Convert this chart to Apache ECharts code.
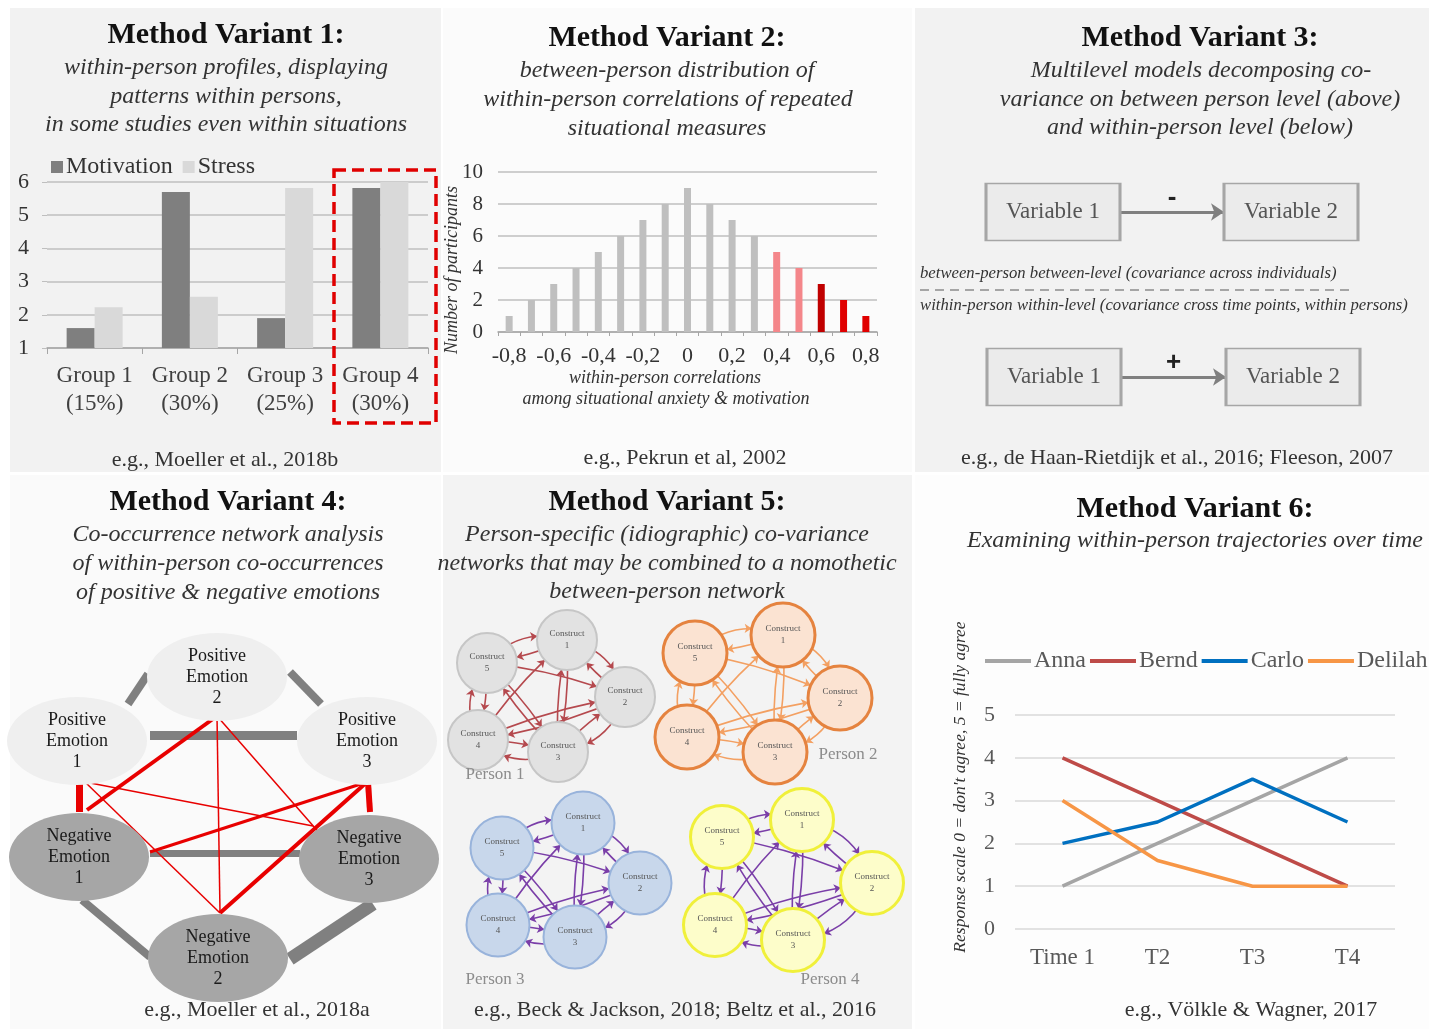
<!DOCTYPE html>
<html><head><meta charset="utf-8">
<script src="https://cdn.jsdelivr.net/npm/echarts@6/dist/echarts.min.js"></script>
<style>html,body{margin:0;padding:0;background:#fff}#c{width:1429px;height:1029px}</style>
</head><body><div id="c"></div>
<script>
// ---------- Panel 1 data ----------
const p1Categories = ['Group 1\n(15%)', 'Group 2\n(30%)', 'Group 3\n(25%)', 'Group 4\n(30%)'];
const p1Motivation = [1.6, 5.7, 1.9, 5.82];
const p1Stress = [2.23, 2.54, 5.82, 6.0];
// ---------- Panel 2 data ----------
const p2Bins = ['-0,8','-0,7','-0,6','-0,5','-0,4','-0,3','-0,2','-0,1','0','0,1','0,2','0,3','0,4','0,5','0,6','0,7','0,8'];
const p2Counts = [1, 2, 3, 4, 5, 6, 7, 8, 9, 8, 7, 6, 5, 4, 3, 2, 1];
// ---------- Panel 6 data ----------
const p6Times = ['Time 1', 'T2', 'T3', 'T4'];
const p6Anna = [1, 2, 3, 4];
const p6Bernd = [4, 3, 2, 1];
const p6Carlo = [2, 2.5, 3.5, 2.5];
const p6Delilah = [3, 1.6, 1, 1];
// ---------- Panel 3 diagram ----------
const p3BoxLabels = ['Variable 1', 'Variable 2', 'Variable 1', 'Variable 2'];
const p3ArrowSigns = ['-', '+'];
// ---------- Panel 4 network ----------
const p4NodeLabels = ['Positive\nEmotion\n1','Positive\nEmotion\n2','Positive\nEmotion\n3','Negative\nEmotion\n1','Negative\nEmotion\n2','Negative\nEmotion\n3'];
const p4NodeIds = ['P1','P2','P3','N1','N2','N3'];
const p4Edges = [ // [from, to, strength]
  ['P1','P2',8],['P2','P3',8],['P1','P3',9],['N1','N3',7],['N1','N2',8],['N2','N3',13],
  ['P1','N1',7],['P2','N1',4],['P2','N2',1.5],['P2','N3',1.5],['P1','N3',1.5],['P1','N2',1.5],
  ['P3','N1',3],['P3','N2',4],['P3','N3',6]
];
// ---------- Panel 5 networks ----------
const p5Persons = ['Person 1', 'Person 2', 'Person 3', 'Person 4'];
const p5Constructs = ['Construct\n1','Construct\n2','Construct\n3','Construct\n4','Construct\n5'];
const p5Links = [ // [from, to]  (construct numbers)
  [1,2],[2,3],[3,4],[4,5],[5,1],
  [2,1],[3,2],[4,3],[5,4],[1,5],
  [1,3],[3,1],[4,1],[2,4],[4,2],[5,2],[3,5],[5,3]
];

// ---------- layout (positions in page pixels) ----------
const L = {
  p3Boxes: [[1053,212],[1291,212],[1054,377],[1293,377]],
  p3Arrows: [[1120,212,1224,212],[1121,377,1226,377]],
  p4Nodes: [[77,741],[217,677],[367,741],[79,857],[218,958],[369,859]],
  p4EdgeEnds: [[128,704,148,674],[290,672,321,704],[150,735,297,735],[150,853,300,853],[82,900,150,957],[290,959,373,904],
    [79,781,79,812],[217,716,87,810],[217,716,220,913],[217,716,322,836],[85,782,313,826],[85,782,220,913],
    [367,782,150,852],[367,782,220,913],[368,782,370,812]],
  p5Nodes: [
    [[567,640],[625,697],[558,752],[478,740],[487,663]],
    [[783,635],[840,698],[775,752],[687,737],[695,653]],
    [[583,823],[640,883],[575,937],[498,925],[502,848]],
    [[802,820],[872,883],[793,940],[715,925],[722,837]]
  ],
  p5Labels: [[495,775],[848,755],[495,980],[830,980]]
};

const SERIF = '"Liberation Serif", "Times New Roman", serif';
const SANS = '"Liberation Sans", Arial, sans-serif';

function txt(text, x, y, font, fill, align) {
  return { type: 'text', x: x, y: y, z: 100, silent: true,
    style: { text: text, font: font, fill: fill || '#222', align: align || 'center', verticalAlign: 'middle' } };
}
function bg(x, y, w, h, c) {
  return { type: 'rect', z: -10, silent: true, shape: { x: x, y: y, width: w, height: h }, style: { fill: c } };
}
const TITLE = 'bold 30px ' + SERIF;
const SUB = 'italic 24px ' + SERIF;
const CITE = '22px ' + SERIF;
const SMALLIT = 'italic 16.7px ' + SERIF;

const graphics = [
  bg(10, 8, 431, 464, '#f2f2f2'),
  bg(443, 8, 469, 464, '#fbfbfb'),
  bg(915, 8, 514, 464, '#f2f2f2'),
  bg(10, 475, 431, 554, '#fafafa'),
  bg(443, 475, 469, 554, '#f3f3f3'),
  bg(915, 475, 514, 554, '#fdfdfd'),
  // Panel 1
  txt('Method Variant 1:', 226, 35, TITLE, '#111'),
  txt('within-person profiles, displaying', 226, 68, SUB, '#333'),
  txt('patterns within persons,', 226, 97, SUB, '#333'),
  txt('in some studies even within situations', 226, 125, SUB, '#333'),
  txt('e.g., Moeller et al., 2018b', 225, 460, CITE, '#333'),
  { type: 'rect', z: 60, silent: true, shape: { x: 334, y: 170, width: 102, height: 253 },
    style: { fill: 'none', stroke: '#e00000', lineWidth: 3.5, lineDash: [12, 6] } },
  // Panel 2
  txt('Method Variant 2:', 667, 38, TITLE, '#111'),
  txt('between-person distribution of', 667, 71, SUB, '#333'),
  txt('within-person correlations of repeated', 668, 100, SUB, '#333'),
  txt('situational measures', 667, 129, SUB, '#333'),
  txt('within-person correlations', 665, 378, 'italic 18px ' + SERIF, '#333'),
  txt('among situational anxiety & motivation', 666, 399, 'italic 18px ' + SERIF, '#333'),
  Object.assign(txt('Number of participants', 452, 270, 'italic 18px ' + SERIF, '#333'), { rotation: Math.PI / 2 }),
  txt('e.g., Pekrun et al, 2002', 685, 458, CITE, '#333'),
  // Panel 3
  txt('Method Variant 3:', 1200, 38, TITLE, '#111'),
  txt('Multilevel models decomposing co-', 1201, 71, SUB, '#333'),
  txt('variance on between person level (above)', 1200, 100, SUB, '#333'),
  txt('and within-person level (below)', 1200, 128, SUB, '#333'),
  txt('between-person between-level (covariance across individuals)', 920, 274, SMALLIT, '#333', 'left'),
  txt('within-person within-level (covariance cross time points, within persons)', 920, 306, SMALLIT, '#333', 'left'),
  { type: 'line', z: 50, silent: true, shape: { x1: 920, y1: 290, x2: 1355, y2: 290 },
    style: { stroke: '#8c8c8c', lineWidth: 1.5, lineDash: [9, 6] } },
  txt('e.g., de Haan-Rietdijk et al., 2016; Fleeson, 2007', 1177, 458, CITE, '#333'),
  // Panel 4
  txt('Method Variant 4:', 228, 502, TITLE, '#111'),
  txt('Co-occurrence network analysis', 228, 535, SUB, '#333'),
  txt('of within-person co-occurrences', 228, 564, SUB, '#333'),
  txt('of positive & negative emotions', 228, 593, SUB, '#333'),
  txt('e.g., Moeller et al., 2018a', 257, 1010, CITE, '#333'),
  // Panel 5
  txt('Method Variant 5:', 667, 502, TITLE, '#111'),
  txt('Person-specific (idiographic) co-variance', 667, 535, SUB, '#333'),
  txt('networks that may be combined to a nomothetic', 667, 564, SUB, '#333'),
  txt('between-person network', 667, 592, SUB, '#333'),
  txt('e.g., Beck & Jackson, 2018; Beltz et al., 2016', 675, 1010, CITE, '#333'),
  // Panel 6
  txt('Method Variant 6:', 1195, 509, TITLE, '#111'),
  txt('Examining within-person trajectories over time', 1195, 541, SUB, '#333'),
  Object.assign(txt("Response scale 0 = don't agree, 5 = fully agree", 960, 787, 'italic 17.5px ' + SERIF, '#333'), { rotation: Math.PI / 2 }),
  txt('e.g., Völkle & Wagner, 2017', 1251, 1010, CITE, '#333')
];
p5Persons.forEach(function (p, i) {
  graphics.push(txt(p, L.p5Labels[i][0], L.p5Labels[i][1], '17px ' + SERIF, '#8c8c8c'));
});

// ---------- Panel 3 graph ----------
const p3Nodes = [], p3LinksArr = [];
p3BoxLabels.forEach(function (lab, i) {
  p3Nodes.push({ name: 'box' + i, value: L.p3Boxes[i], symbol: 'rect', symbolSize: [134, 57],
    itemStyle: { color: '#ebebeb', borderColor: '#a6a6a6', borderWidth: 2 },
    label: { show: true, position: 'inside', formatter: lab, fontFamily: SERIF, fontSize: 23, color: '#555' } });
});
p3ArrowSigns.forEach(function (s, i) {
  const a = L.p3Arrows[i];
  p3Nodes.push({ name: 'a' + i + 's', value: [a[0], a[1]], symbolSize: 0, label: { show: false } });
  p3Nodes.push({ name: 'a' + i + 't', value: [a[2], a[3]], symbolSize: 0, label: { show: false } });
  p3LinksArr.push({ source: 'a' + i + 's', target: 'a' + i + 't',
    label: { show: true, formatter: s, position: 'middle', distance: 1, fontFamily: SANS, fontWeight: 'bold', fontSize: 26, color: '#222' } });
});

// ---------- Panel 4 graph ----------
const p4Data = [], p4Links = [];
p4NodeIds.forEach(function (id, i) {
  const neg = id.charAt(0) === 'N';
  p4Data.push({ name: id, value: L.p4Nodes[i],
    symbol: 'path://M1,0 C1.552,0 2,0.448 2,1 C2,1.552 1.552,2 1,2 C0.448,2 0,1.552 0,1 C0,0.448 0.448,0 1,0 Z',
    symbolSize: [140, 88], z: 5,
    itemStyle: { color: neg ? '#a6a6a6' : '#efefef' },
    label: { show: true, position: 'inside', formatter: p4NodeLabels[i], fontFamily: SERIF, fontSize: 18, lineHeight: 21, color: '#1a1a1a' } });
});
p4Edges.forEach(function (e, i) {
  const ends = L.p4EdgeEnds[i];
  const sameValence = e[0].charAt(0) === e[1].charAt(0);
  p4Data.push({ name: 'e' + i + 's', value: [ends[0], ends[1]], symbolSize: 0, label: { show: false } });
  p4Data.push({ name: 'e' + i + 't', value: [ends[2], ends[3]], symbolSize: 0, label: { show: false } });
  p4Links.push({ source: 'e' + i + 's', target: 'e' + i + 't',
    lineStyle: { width: e[2], color: sameValence ? '#808080' : '#e80000', opacity: 1, curveness: 0 } });
});

// ---------- Panel 5 graphs ----------
const p5Styles = [
  { fill: '#e2e2e2', border: '#c6c6c6', bw: 2, edge: '#b5494e', size: 60 },
  { fill: '#fbe3d2', border: '#e5833f', bw: 3, edge: '#f3a062', size: 64 },
  { fill: '#c8d7eb', border: '#98b3db', bw: 2, edge: '#7a3ea8', size: 63 },
  { fill: '#fdfdca', border: '#f0f03a', bw: 3, edge: '#7a3ea8', size: 63 }
];
const p5Series = p5Persons.map(function (person, pi) {
  const st = p5Styles[pi];
  const nodes = p5Constructs.map(function (c, ci) {
    return { name: 'p' + pi + 'c' + (ci + 1), value: L.p5Nodes[pi][ci], symbolSize: st.size,
      itemStyle: { color: st.fill, borderColor: st.border, borderWidth: st.bw },
      label: { show: true, position: 'inside', formatter: c, fontFamily: SERIF, fontSize: 9, lineHeight: 12, color: '#555' } };
  });
  const links = p5Links.map(function (lk, li) {
    return { source: 'p' + pi + 'c' + lk[0], target: 'p' + pi + 'c' + lk[1],
      lineStyle: { curveness: li < 5 ? 0.32 : 0.07 } };
  });
  return { type: 'graph', name: person, coordinateSystem: 'cartesian2d', xAxisIndex: 3, yAxisIndex: 3,
    layout: 'none', silent: true, data: nodes, links: links, z: 4,
    edgeSymbol: ['none', 'arrow'], edgeSymbolSize: [0, 7],
    lineStyle: { color: st.edge, width: 1.6, opacity: 1 } };
});

const option = {
  animation: false,
  backgroundColor: '#ffffff',
  graphic: { elements: graphics },
  legend: [
    { data: ['Motivation', 'Stress'], left: 46, top: 150, icon: 'rect', itemWidth: 12, itemHeight: 12, itemGap: 10,
      selectedMode: false, textStyle: { fontFamily: SERIF, fontSize: 24, color: '#333', padding: [0, 0, 0, -2] } },
    { data: ['Anna', 'Bernd', 'Carlo', 'Delilah'], left: 985, top: 649, width: 520, padding: 0, icon: 'rect', itemWidth: 46, itemHeight: 4, itemGap: 4,
      selectedMode: false, textStyle: { fontFamily: SERIF, fontSize: 24, color: '#595959', padding: [0, 0, 0, -2] } }
  ],
  grid: [
    { left: 47, top: 182, width: 381, height: 166 },
    { left: 498, top: 172, width: 379, height: 160 },
    { left: 1015, top: 715, width: 380, height: 214 },
    { left: 0, top: 0, width: 1429, height: 1029 }
  ],
  xAxis: [
    { gridIndex: 0, type: 'category', data: p1Categories,
      axisLine: { lineStyle: { color: '#a6a6a6', width: 1.5 } },
      axisTick: { show: true, length: 6, lineStyle: { color: '#a6a6a6' } },
      axisLabel: { interval: 0, fontFamily: SERIF, fontSize: 23, color: '#404040', lineHeight: 28, margin: 14 } },
    { gridIndex: 1, type: 'category', data: p2Bins,
      axisLine: { lineStyle: { color: '#a6a6a6', width: 1.5 } },
      axisTick: { show: true, length: 4, interval: 0, lineStyle: { color: '#a6a6a6' } },
      axisLabel: { interval: 1, fontFamily: SERIF, fontSize: 22, color: '#333', margin: 13 } },
    { gridIndex: 2, type: 'category', data: p6Times,
      axisLine: { show: false }, axisTick: { show: false },
      axisLabel: { interval: 0, fontFamily: SERIF, fontSize: 23, color: '#595959', margin: 17 } },
    { gridIndex: 3, type: 'value', min: 0, max: 1429, show: false }
  ],
  yAxis: [
    { gridIndex: 0, type: 'value', min: 1, max: 6, interval: 1,
      axisLine: { show: false }, axisTick: { show: true, length: 5, lineStyle: { color: '#bfbfbf' } },
      splitLine: { lineStyle: { color: '#bfbfbf', width: 1.5 } },
      axisLabel: { fontFamily: SERIF, fontSize: 22, color: '#333', margin: 18 } },
    { gridIndex: 1, type: 'value', min: 0, max: 10, interval: 2,
      axisLine: { show: false }, axisTick: { show: false },
      splitLine: { lineStyle: { color: '#bfbfbf', width: 1.5 } },
      axisLabel: { fontFamily: SERIF, fontSize: 21, color: '#333', margin: 15 } },
    { gridIndex: 2, type: 'value', min: 0, max: 5, interval: 1,
      axisLine: { show: false }, axisTick: { show: false },
      splitLine: { lineStyle: { color: '#d9d9d9', width: 1.5 } },
      axisLabel: { fontFamily: SERIF, fontSize: 22, color: '#595959', margin: 20 } },
    { gridIndex: 3, type: 'value', min: 0, max: 1029, inverse: true, show: false }
  ],
  series: [
    { type: 'bar', name: 'Motivation', xAxisIndex: 0, yAxisIndex: 0, data: p1Motivation, barWidth: 28, barGap: '0%',
      itemStyle: { color: '#7f7f7f' } },
    { type: 'bar', name: 'Stress', xAxisIndex: 0, yAxisIndex: 0, data: p1Stress, barWidth: 28, barGap: '0%',
      itemStyle: { color: '#d9d9d9' } },
    { type: 'bar', name: 'Participants', xAxisIndex: 1, yAxisIndex: 1, data: p2Counts, barWidth: 7,
      itemStyle: { color: function (p) {
        const v = parseFloat(p2Bins[p.dataIndex].replace(',', '.'));
        if (v >= 0.65) return '#e00000';
        if (v >= 0.55) return '#c00000';
        if (v >= 0.35) return '#f4868a';
        return '#bfbfbf';
      } } },
    { type: 'line', name: 'Anna', xAxisIndex: 2, yAxisIndex: 2, data: p6Anna, showSymbol: false, color: '#a5a5a5', lineStyle: { width: 3.5 } },
    { type: 'line', name: 'Bernd', xAxisIndex: 2, yAxisIndex: 2, data: p6Bernd, showSymbol: false, color: '#be4b48', lineStyle: { width: 3.5 } },
    { type: 'line', name: 'Carlo', xAxisIndex: 2, yAxisIndex: 2, data: p6Carlo, showSymbol: false, color: '#0070c0', lineStyle: { width: 3.5 } },
    { type: 'line', name: 'Delilah', xAxisIndex: 2, yAxisIndex: 2, data: p6Delilah, showSymbol: false, color: '#f79646', lineStyle: { width: 3.5 } },
    { type: 'graph', name: 'Multilevel', coordinateSystem: 'cartesian2d', xAxisIndex: 3, yAxisIndex: 3, layout: 'none', silent: true,
      data: p3Nodes, links: p3LinksArr, edgeSymbol: ['none', 'arrow'], edgeSymbolSize: [0, 13],
      lineStyle: { color: '#808080', width: 3, opacity: 1 } },
    { type: 'graph', name: 'Co-occurrence', coordinateSystem: 'cartesian2d', xAxisIndex: 3, yAxisIndex: 3, layout: 'none', silent: true,
      data: p4Data, links: p4Links }
  ].concat(p5Series)
};

const chart = echarts.init(document.getElementById('c'), null, { renderer: 'canvas', width: 1429, height: 1029 });
chart.setOption(option);
</script>
</body></html>
